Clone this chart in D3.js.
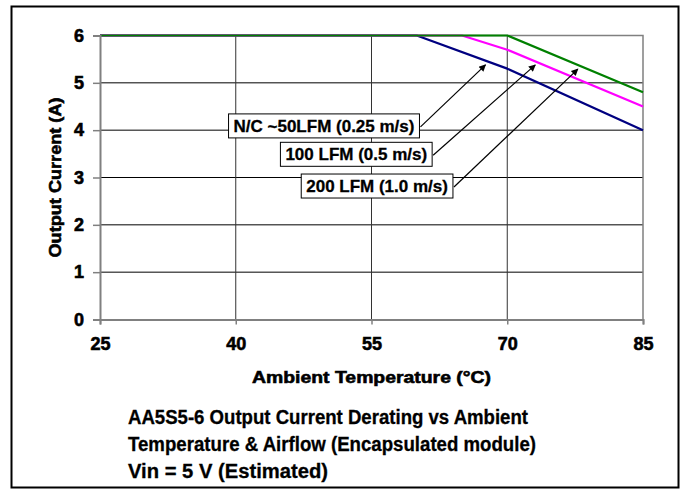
<!DOCTYPE html>
<html>
<head>
<meta charset="utf-8">
<script src="https://cdn.jsdelivr.net/npm/d3@7"></script>
<style>
  body { margin: 0; background: #fff; }
  svg text { font-family: Arial, "Liberation Sans", sans-serif; font-weight: bold; fill: #000; }
  .heavy { stroke: #000; stroke-width: 0.6px; }
  .semi { stroke: #000; stroke-width: 0.3px; }
</style>
</head>
<body>
<div id="chart"></div>
<script>
// data
var temps = [25, 60, 65, 70, 85];
var xTicks = [25, 40, 55, 70, 85];
var yTicks = [0, 1, 2, 3, 4, 5, 6];

var seriesNames = ["N/C ~50LFM (0.25 m/s)", "100 LFM (0.5 m/s)", "200 LFM (1.0 m/s)"];
var seriesColors = ["#000080", "#ff00ff", "#008000"];
var nc50 = [6, 6, null, 5.3, 4.0];
var lfm100 = [6, null, 6, 5.7, 4.5];
var lfm200 = [6, null, null, 6, 4.8];

// label boxes: right edge / centre in data units, arrow head in data units
var labelX = [60.3, 61.7, 64.0];
var labelY = [4.09, 3.49, 2.82];
var arrowX = [67.6, 73.1, 77.8];
var arrowY = [5.38, 5.38, 5.29];

var titleLines = [
    "AA5S5-6 Output Current Derating vs Ambient",
    "Temperature & Airflow (Encapsulated module)",
    "Vin = 5 V (Estimated)"
];
var titleWidths = [400, 408, 200];

var width = 685, height = 495;
var margin = {top: 35.5, right: 42, bottom: 175.5, left: 100};

var svg = d3.select("#chart").append("svg")
    .attr("width", width)
    .attr("height", height);

svg.append("defs").append("marker")
    .attr("id", "head")
    .attr("viewBox", "0 0 10 10")
    .attr("refX", 9).attr("refY", 5)
    .attr("markerWidth", 9).attr("markerHeight", 7)
    .attr("markerUnits", "userSpaceOnUse")
    .attr("orient", "auto")
    .append("path").attr("d", "M0,0 L10,5 L0,10 Z").attr("fill", "#000");

// outer frame
svg.append("rect")
    .attr("x", 11.5).attr("y", 6.5)
    .attr("width", 667).attr("height", 481)
    .attr("fill", "none").attr("stroke", "#000").attr("stroke-width", 2);

var x = d3.scaleLinear().domain([25, 85]).range([margin.left, width - margin.right]);
var y = d3.scaleLinear().domain([0, 6]).range([height - margin.bottom, margin.top]);

var g = svg.append("g");

// gridlines
g.selectAll(".hgrid").data(yTicks.filter(d => d > 0 && d < 6)).enter()
  .append("line")
    .attr("x1", x(25)).attr("x2", x(85))
    .attr("y1", d => y(d)).attr("y2", d => y(d))
    .attr("stroke", "#000").attr("stroke-width", 1);

g.selectAll(".vgrid").data(xTicks.filter(d => d > 25 && d < 85)).enter()
  .append("line")
    .attr("x1", d => x(d)).attr("x2", d => x(d))
    .attr("y1", y(0)).attr("y2", y(6))
    .attr("stroke", "#333").attr("stroke-width", 1);

// plot area border (top / right)
g.append("path")
    .attr("d", `M${x(25)},${y(6)} H${x(85)} V${y(0)}`)
    .attr("fill", "none").attr("stroke", "#808080").attr("stroke-width", 1.5);

// axes
var xAxis = d3.axisBottom(x).tickValues(xTicks).tickSize(5).tickPadding(13);
var yAxis = d3.axisLeft(y).tickValues(yTicks).tickFormat(d3.format("d")).tickSize(7).tickPadding(9);

var gx = svg.append("g")
    .attr("transform", `translate(0,${y(0)})`)
    .call(xAxis);
var gy = svg.append("g")
    .attr("transform", `translate(${x(25)},0)`)
    .call(yAxis);

[gx, gy].forEach(function(a){
    a.select(".domain").attr("stroke", "#808080").attr("stroke-width", 2);
    a.selectAll(".tick line").attr("stroke", "#808080").attr("stroke-width", 1.5);
    a.selectAll(".tick text")
        .attr("class", "heavy")
        .style("font-size", "18px")
        .style("font-family", "Arial, 'Liberation Sans', sans-serif")
        .style("font-weight", "bold")
        .attr("fill", "#000");
});

// series
var allSeries = [nc50, lfm100, lfm200];
var line = d3.line()
    .x(d => x(d.t))
    .y(d => y(d.v));

allSeries.forEach(function(vals, i){
    var pts = temps.map((t, k) => ({t: t, v: vals[k]})).filter(d => d.v !== null);
    g.append("path")
        .datum(pts)
        .attr("d", line)
        .attr("fill", "none")
        .attr("stroke", seriesColors[i])
        .attr("stroke-width", 2.2)
        .attr("stroke-linejoin", "round");
});

// annotations
seriesNames.forEach(function(name, i){
    var rx = x(labelX[i]), cy = y(labelY[i]);
    var ann = svg.append("g");
    var box = ann.append("rect");
    var t = ann.append("text")
        .attr("class", "semi")
        .attr("x", rx - 5)
        .attr("y", cy)
        .attr("dy", "0.36em")
        .attr("text-anchor", "end")
        .style("font-size", "17px")
        .text(name);
    var w = t.node().getComputedTextLength();
    box.attr("x", rx - w - 10).attr("y", cy - 12)
        .attr("width", w + 10).attr("height", 24)
        .attr("fill", "#fff").attr("stroke", "#000").attr("stroke-width", 1);
    svg.append("line")
        .attr("x1", rx + 1).attr("y1", cy + 1)
        .attr("x2", x(arrowX[i])).attr("y2", y(arrowY[i]))
        .attr("stroke", "#000").attr("stroke-width", 1.2)
        .attr("marker-end", "url(#head)");
});

// axis titles
svg.append("text")
    .attr("class", "heavy")
    .attr("x", (x(25) + x(85)) / 2)
    .attr("y", 383)
    .attr("text-anchor", "middle")
    .attr("textLength", 239)
    .attr("lengthAdjust", "spacingAndGlyphs")
    .style("font-size", "17px")
    .text("Ambient Temperature (°C)");

svg.append("text")
    .attr("class", "heavy")
    .attr("transform", `translate(61,${(y(0) + y(6)) / 2}) rotate(-90)`)
    .attr("text-anchor", "middle")
    .attr("textLength", 160)
    .attr("lengthAdjust", "spacingAndGlyphs")
    .style("font-size", "17px")
    .text("Output Current (A)");

// chart title below
svg.selectAll(".title").data(titleLines).enter()
  .append("text")
    .attr("class", "semi")
    .attr("x", 128)
    .attr("y", (d, i) => 424 + i * 27)
    .attr("textLength", (d, i) => titleWidths[i])
    .attr("lengthAdjust", "spacingAndGlyphs")
    .style("font-size", "20px")
    .text(d => d);
</script>
</body>
</html>
